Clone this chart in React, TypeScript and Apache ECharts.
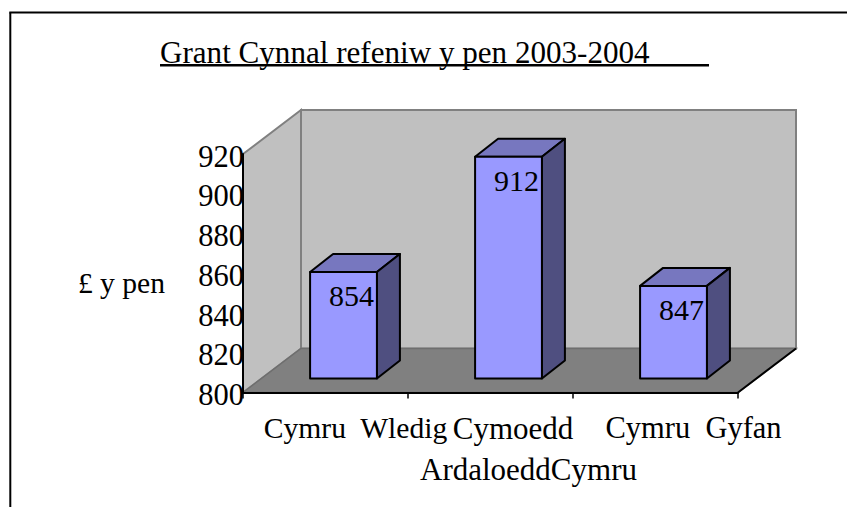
import React, { useEffect, useRef } from "react";
import * as echarts from "echarts";

const titleText = "Grant Cynnal refeniw y pen 2003-2004";
const yAxisName = "£ y pen";
const categories = ["Cymru  Wledig", "Cymoedd\u00a0\u00a0\u00a0\u00a0\nArdaloeddCymru", "Cymru  Gyfan"];
const values = [854, 912, 847];
const yMin = 800;
const yMax = 920;
const yStep = 20;

const FONT = "'Liberation Serif', 'Times New Roman', serif";
const FS = 29.6;
const TITLE_FS = 31.1;
const WALL_DX = 58;
const WALL_DY = -44;
const BAR_FRONT_DX = 18;
const BAR_FRONT_DY = -14;
const BAR_DX = 23;
const BAR_DY = -18;
const BAR_RATIO = 0.405;
const categoryStyles = [
  { fontSize: 29.6, padding: [0, 0, 0, 60] },
  { fontSize: 31, padding: [0, 0, 0, 76] },
  { fontSize: 30.5, padding: [0, 0, 0, 76] },
];

const renderWalls = (params: any) => {
  const { x, y, width: w, height: h } = params.coordSys;
  const b = y + h;
  const r = x + w;
  const wall = { fill: "#C0C0C0", stroke: "#808080", lineWidth: 2 };
  return {
    type: "group",
    children: [
      { type: "polygon", shape: { points: [[x + WALL_DX, y + WALL_DY], [r + WALL_DX, y + WALL_DY], [r + WALL_DX, b + WALL_DY], [x + WALL_DX, b + WALL_DY]] }, style: wall },
      { type: "polygon", shape: { points: [[x, y], [x + WALL_DX, y + WALL_DY], [x + WALL_DX, b + WALL_DY], [x, b]] }, style: wall },
      { type: "polygon", shape: { points: [[x, b], [x + WALL_DX, b + WALL_DY], [r + WALL_DX, b + WALL_DY], [r, b]] }, style: { fill: "#808080", stroke: "#6E6E6E", lineWidth: 1.5 } },
      { type: "line", shape: { x1: r, y1: b, x2: r + WALL_DX, y2: b + WALL_DY }, style: { stroke: "#000", lineWidth: 2 } },
    ],
  };
};

const renderBar = (params: any, api: any) => {
  const idx = api.value(0);
  const val = api.value(1);
  const top = api.coord([idx, val]);
  const base = api.coord([idx, yMin]);
  const band = api.size([1, 0])[0];
  const half = (band * BAR_RATIO) / 2;
  const l = top[0] + BAR_FRONT_DX - half;
  const r = top[0] + BAR_FRONT_DX + half;
  const t = top[1] + BAR_FRONT_DY + 0.8;
  const b = base[1] + BAR_FRONT_DY;
  const edge = { stroke: "#000", lineWidth: 2, lineJoin: "round" };
  return {
    type: "group",
    children: [
      { type: "polygon", shape: { points: [[l, t], [l + BAR_DX, t + BAR_DY], [r + BAR_DX, t + BAR_DY], [r, t]] }, style: { fill: "#7777BF", ...edge } },
      { type: "polygon", shape: { points: [[r, t], [r + BAR_DX, t + BAR_DY], [r + BAR_DX, b + BAR_DY], [r, b]] }, style: { fill: "#4F4F80", ...edge } },
      { type: "polygon", shape: { points: [[l, t], [r, t], [r, b], [l, b]] }, style: { fill: "#9999FF", ...edge } },
      { type: "text", x: (l + r) / 2 + 8, y: t + 24, style: { text: String(val), fill: "#000", fontSize: 30, fontFamily: FONT, align: "center", verticalAlign: "middle" } },
    ],
  };
};

export default function App() {
  const ref = useRef<HTMLDivElement>(null);
  useEffect(() => {
    const chart = echarts.init(ref.current!, undefined, { renderer: "svg" });
    chart.setOption({
      animation: false,
      backgroundColor: "#fff",
      title: {
        text: titleText,
        left: 160,
        top: 37,
        padding: 0,
        textStyle: { fontFamily: FONT, fontSize: TITLE_FS, fontWeight: "normal", color: "#000" },
      },
      grid: { left: 243, top: 154, width: 495, height: 238.5, outerBoundsMode: "none", containLabel: false },
      xAxis: {
        type: "category",
        data: categories.map((value, i) => ({ value, textStyle: categoryStyles[i] })),
        z: 5,
        axisLine: { show: true, lineStyle: { color: "#000", width: 2 } },
        axisTick: { show: true, length: 6, alignWithLabel: false, lineStyle: { color: "#000", width: 1.5 } },
        axisLabel: { interval: 0, color: "#000", fontFamily: FONT, fontSize: FS, margin: 15, lineHeight: 41, padding: [0, 0, 0, 60], hideOverlap: false },
      },
      yAxis: {
        type: "value",
        min: yMin,
        max: yMax,
        interval: yStep,
        z: 5,
        name: yAxisName,
        nameLocation: "middle",
        nameRotate: 0,
        nameGap: 78,
        nameTextStyle: { fontFamily: FONT, fontSize: FS, color: "#000", verticalAlign: "top", lineHeight: 20 },
        splitLine: { show: false },
        axisTick: { show: false },
        axisLine: { show: true, lineStyle: { color: "#000", width: 2 } },
        axisLabel: { color: "#000", fontFamily: FONT, fontSize: 30.5, margin: -1, verticalAlign: "top", lineHeight: 5 },
      },
      series: [
        { type: "custom", name: "walls", silent: true, clip: false, z: 1, renderItem: renderWalls, data: [[0, yMin]] },
        { type: "custom", name: "Grant", clip: false, z: 2, renderItem: renderBar, encode: { x: 0, y: 1 }, data: values.map((v, i) => [i, v]) },
      ],
      graphic: [
        { type: "rect", z: 10, shape: { x: 160, y: 64, width: 549, height: 2.6 }, style: { fill: "#000" } },
        { type: "line", z: 10, shape: { x1: 10.3, y1: 12.4, x2: 10.3, y2: 507 }, style: { stroke: "#000", lineWidth: 2 } },
        { type: "line", z: 10, shape: { x1: 9.3, y1: 12.4, x2: 847, y2: 12.4 }, style: { stroke: "#000", lineWidth: 2 } },
      ],
    });
    return () => chart.dispose();
  }, []);
  return <div ref={ref} style={{ position: "fixed", left: 0, top: 0, width: 847, height: 507 }} />;
}
